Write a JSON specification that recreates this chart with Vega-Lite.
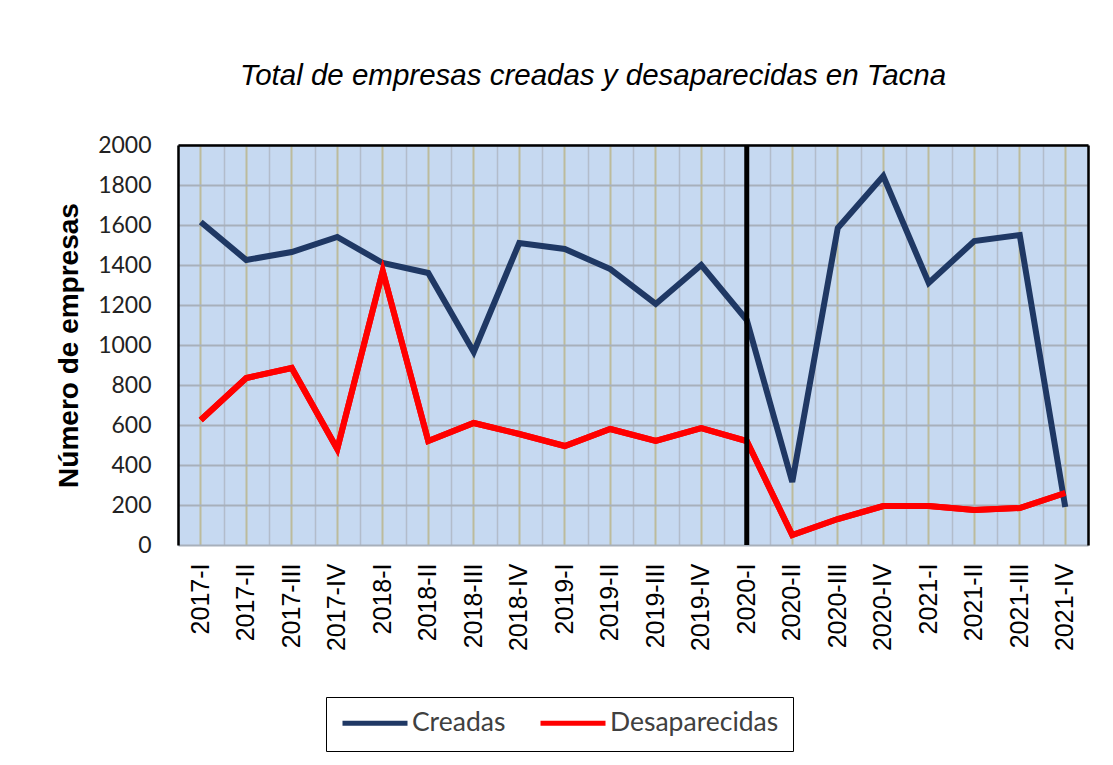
{
  "$schema": "https://vega.github.io/schema/vega-lite/v6.json",
  "width": 910,
  "height": 400,
  "autosize": {"type": "none"},
  "padding": {"left": 178, "top": 145, "right": 25, "bottom": 220},
  "background": "white",
  "config": {
    "view": {"stroke": null, "fill": "#c6d9f1"}
  },
  "title": {
    "text": "Total de empresas creadas y desaparecidas en Tacna",
    "font": "Liberation Sans",
    "fontStyle": "italic",
    "fontWeight": "normal",
    "fontSize": 29.5,
    "color": "black",
    "anchor": "middle",
    "baseline": "alphabetic",
    "dx": -40,
    "offset": 20
  },
  "datasets": {
    "series": [
      {"q": "2017-I", "serie": "Creadas", "valor": 1615},
      {"q": "2017-II", "serie": "Creadas", "valor": 1425},
      {"q": "2017-III", "serie": "Creadas", "valor": 1465},
      {"q": "2017-IV", "serie": "Creadas", "valor": 1540},
      {"q": "2018-I", "serie": "Creadas", "valor": 1410},
      {"q": "2018-II", "serie": "Creadas", "valor": 1360},
      {"q": "2018-III", "serie": "Creadas", "valor": 965},
      {"q": "2018-IV", "serie": "Creadas", "valor": 1510},
      {"q": "2019-I", "serie": "Creadas", "valor": 1480},
      {"q": "2019-II", "serie": "Creadas", "valor": 1380},
      {"q": "2019-III", "serie": "Creadas", "valor": 1205},
      {"q": "2019-IV", "serie": "Creadas", "valor": 1400},
      {"q": "2020-I", "serie": "Creadas", "valor": 1125},
      {"q": "2020-II", "serie": "Creadas", "valor": 315},
      {"q": "2020-III", "serie": "Creadas", "valor": 1585},
      {"q": "2020-IV", "serie": "Creadas", "valor": 1845},
      {"q": "2021-I", "serie": "Creadas", "valor": 1310},
      {"q": "2021-II", "serie": "Creadas", "valor": 1520},
      {"q": "2021-III", "serie": "Creadas", "valor": 1550},
      {"q": "2021-IV", "serie": "Creadas", "valor": 190},
      {"q": "2017-I", "serie": "Desaparecidas", "valor": 625},
      {"q": "2017-II", "serie": "Desaparecidas", "valor": 835},
      {"q": "2017-III", "serie": "Desaparecidas", "valor": 885},
      {"q": "2017-IV", "serie": "Desaparecidas", "valor": 480},
      {"q": "2018-I", "serie": "Desaparecidas", "valor": 1370},
      {"q": "2018-II", "serie": "Desaparecidas", "valor": 520},
      {"q": "2018-III", "serie": "Desaparecidas", "valor": 610},
      {"q": "2018-IV", "serie": "Desaparecidas", "valor": 555},
      {"q": "2019-I", "serie": "Desaparecidas", "valor": 495},
      {"q": "2019-II", "serie": "Desaparecidas", "valor": 580},
      {"q": "2019-III", "serie": "Desaparecidas", "valor": 520},
      {"q": "2019-IV", "serie": "Desaparecidas", "valor": 585},
      {"q": "2020-I", "serie": "Desaparecidas", "valor": 520},
      {"q": "2020-II", "serie": "Desaparecidas", "valor": 50},
      {"q": "2020-III", "serie": "Desaparecidas", "valor": 130},
      {"q": "2020-IV", "serie": "Desaparecidas", "valor": 195},
      {"q": "2021-I", "serie": "Desaparecidas", "valor": 195},
      {"q": "2021-II", "serie": "Desaparecidas", "valor": 175},
      {"q": "2021-III", "serie": "Desaparecidas", "valor": 185},
      {"q": "2021-IV", "serie": "Desaparecidas", "valor": 260}
    ],
    "marker": [{"q": "2020-I"}]
  },
  "layer": [
    {
      "data": {"name": "series"},
      "mark": {"type": "line", "strokeWidth": 6, "strokeJoin": "miter"},
      "encoding": {
        "x": {
          "field": "q", "type": "nominal", "sort": null,
          "scale": {"type": "band", "paddingInner": 0, "paddingOuter": 0},
          "axis": {
            "orient": "bottom", "title": null, "domain": false, "ticks": false,
            "labelAngle": -90, "labelFont": "Liberation Sans", "labelFontSize": 25,
            "labelColor": "black", "labelPadding": 18,
            "grid": true, "gridColor": "#bcbb9c", "gridWidth": 2
          }
        },
        "y": {
          "field": "valor", "type": "quantitative",
          "scale": {"domain": [0, 2000], "nice": false},
          "axis": {
            "orient": "left", "values": [0, 200, 400, 600, 800, 1000, 1200, 1400, 1600, 1800, 2000],
            "format": "d",
            "title": "Número de empresas", "titleFont": "Liberation Sans", "titleFontSize": 28,
            "titleFontWeight": "bold", "titleColor": "black", "titlePadding": 14,
            "labelFont": "Lato", "labelFontSize": 23, "labelColor": "#222222", "labelPadding": 27,
            "ticks": false, "domain": true, "domainColor": "black", "domainWidth": 2.5,
            "grid": true, "gridColor": "#a7b0bb", "gridWidth": 2
          }
        },
        "color": {
          "field": "serie", "type": "nominal",
          "scale": {"domain": ["Creadas", "Desaparecidas"], "range": ["#1f3864", "#ff0000"]},
          "legend": {
            "title": null, "orient": "none", "direction": "horizontal",
            "legendX": 148, "legendY": 552,
            "symbolType": "stroke", "symbolSize": 4225, "symbolStrokeWidth": 5,
            "clipHeight": 24,
            "labelFont": "Lato", "labelFontSize": 26.5, "labelColor": "#404040",
            "labelLimit": 400,
            "labelOffset": 2, "columnPadding": 32, "padding": 14,
            "strokeColor": "black"
          }
        }
      }
    },
    {
      "data": {"name": "series"},
      "transform": [{"filter": "datum.serie === 'Desaparecidas'"}],
      "mark": {"type": "line", "strokeWidth": 6, "color": "#ff0000", "strokeJoin": "miter"},
      "encoding": {
        "x": {
          "field": "q", "type": "nominal", "sort": null,
          "axis": {
            "orient": "top", "title": null, "labels": false, "ticks": false,
            "domain": true, "domainColor": "black", "domainWidth": 2.5,
            "tickBand": "extent", "grid": true, "gridColor": "#b2bccb", "gridWidth": 1.5
          }
        },
        "y": {
          "field": "valor", "type": "quantitative",
          "axis": {
            "orient": "right", "title": null, "labels": false, "ticks": false, "grid": false,
            "domain": true, "domainColor": "black", "domainWidth": 2.5
          }
        }
      }
    },
    {
      "data": {"name": "marker"},
      "mark": {"type": "rule", "color": "black", "strokeWidth": 5},
      "encoding": {
        "x": {"field": "q", "type": "nominal", "sort": null, "axis": null}
      }
    }
  ],
  "resolve": {"axis": {"x": "independent", "y": "independent"}}
}
